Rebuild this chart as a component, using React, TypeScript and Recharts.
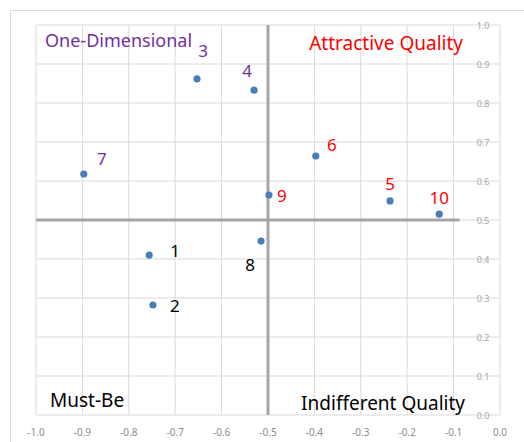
import React from 'react';
import {
    ScatterChart,
    Scatter,
    XAxis,
    YAxis,
    CartesianGrid,
    ReferenceLine,
    ReferenceArea,
    LabelList,
} from 'recharts';

const ITEM_IDS = ['1', '2', '3', '4', '5', '6', '7', '8', '9', '10'];
const X_VALUES = [-0.756, -0.748, -0.653, -0.53, -0.237, -0.397, -0.897, -0.515, -0.498, -0.131];
const Y_VALUES = [0.41, 0.282, 0.862, 0.833, 0.549, 0.664, 0.618, 0.446, 0.564, 0.515];
const X_TICKS = [-1.0, -0.9, -0.8, -0.7, -0.6, -0.5, -0.4, -0.3, -0.2, -0.1, 0.0];
const Y_TICKS = [0.0, 0.1, 0.2, 0.3, 0.4, 0.5, 0.6, 0.7, 0.8, 0.9, 1.0];

// label nudges per item [dx, dy]
const LABEL_NUDGE: [number, number][] = [
    [26, -5], [22, 0], [6, -28], [-7, -20], [0, -17],
    [16, -12], [18, -15], [-11, 23], [13, 0], [0, -17],
];

const PURPLE = '#7030a0';
const RED = '#ff0000';
const BLACK = '#000000';
const FONT = '"Noto Sans", "Open Sans", sans-serif';

const data = ITEM_IDS.map((id, i) => ({ id, x: X_VALUES[i], y: Y_VALUES[i], idx: i }));

function labelColor(x: number, y: number) {
    if (y < 0.5) return BLACK;
    return x < -0.5 ? PURPLE : RED;
}

function PointLabel(props: any) {
    const { x, y, width, height, index } = props;
    const d = data[index];
    const cx = x + (width || 0) / 2;
    const cy = y + (height || 0) / 2;
    const [dx, dy] = LABEL_NUDGE[index];
    return (
        <text
            x={cx + dx}
            y={cy + dy}
            fill={labelColor(d.x, d.y)}
            fontSize={17}
            fontFamily={FONT}
            textAnchor="middle"
            dominantBaseline="central"
        >
            {d.id}
        </text>
    );
}

function renderYTick(props: any) {
    const { x, y, payload } = props;
    return (
        <text x={x - 25} y={y} fill="#a6a6a6" fontSize={9} fontFamily={FONT} textAnchor="middle" dominantBaseline="central">
            {Number(payload.value).toFixed(1)}
        </text>
    );
}

function quadLabel(text: string, color: string, corner: 'tl' | 'tr' | 'bl' | 'br', ox: number, oy: number, size = 19) {
    return (props: any) => {
        const vb = props.viewBox;
        const left = corner === 'tl' || corner === 'bl';
        const top = corner === 'tl' || corner === 'tr';
        const tx = left ? vb.x + ox : vb.x + vb.width - ox;
        const ty = top ? vb.y + oy : vb.y + vb.height - oy;
        return (
            <text x={tx} y={ty} fill={color} fontSize={size} fontFamily={FONT} textAnchor={left ? 'start' : 'end'} dominantBaseline="central">
                {text}
            </text>
        );
    };
}

export default function App() {
    return (
        <div style={{ position: 'absolute', left: 0, top: 0, width: 524, height: 442, background: '#fff' }}>
            <div
                style={{
                    position: 'absolute',
                    left: 10,
                    top: 10,
                    width: 514,
                    height: 432,
                    borderTop: '1px solid #d9d9d9',
                    borderLeft: '1px solid #d9d9d9',
                }}
            />
            <ScatterChart
                width={524}
                height={442}
                margin={{ top: 25, right: 23, left: 36, bottom: 0 }}
                style={{ position: 'absolute', left: 0, top: 0 }}
            >
                <CartesianGrid stroke="#d9d9d9" strokeWidth={1} />
                <XAxis
                    type="number"
                    dataKey="x"
                    domain={[-1, 0]}
                    ticks={X_TICKS}
                    tickFormatter={(v) => Number(v).toFixed(1)}
                    axisLine={false}
                    tickLine={false}
                    tickMargin={8}
                    height={27}
                    tick={{ fill: '#8c8c8c', fontSize: 10, fontFamily: FONT }}
                    interval={0}
                />
                <YAxis
                    type="number"
                    dataKey="y"
                    orientation="right"
                    domain={[0, 1]}
                    ticks={Y_TICKS}
                    axisLine={false}
                    tickLine={false}
                    width={1}
                    tick={renderYTick}
                    interval={0}
                />
                <ReferenceArea x1={-1} x2={-0.5} y1={0.5} y2={1} fill="none" stroke="none" label={quadLabel('One-Dimensional', PURPLE, 'tl', 9, 15, 18)} />
                <ReferenceArea x1={-0.5} x2={0} y1={0.5} y2={1} fill="none" stroke="none" label={quadLabel('Attractive Quality', RED, 'tr', 37, 18)} />
                <ReferenceArea x1={-1} x2={-0.5} y1={0} y2={0.5} fill="none" stroke="none" label={quadLabel('Must-Be', BLACK, 'bl', 14, 15)} />
                <ReferenceArea x1={-0.5} x2={0} y1={0} y2={0.5} fill="none" stroke="none" label={quadLabel('Indifferent Quality', BLACK, 'br', 35, 12)} />
                <ReferenceLine x={-0.5} stroke="#a6a6a6" strokeWidth={3} />
                <ReferenceLine segment={[{ x: -1, y: 0.5 }, { x: -0.087, y: 0.5 }]} stroke="#a6a6a6" strokeWidth={3} />
                <Scatter
                    data={data}
                    fill="#4a7ebb"
                    isAnimationActive={false}
                    shape={(p: any) => <circle cx={p.cx} cy={p.cy} r={3.6} fill="#4a7ebb" />}
                >
                    <LabelList dataKey="id" content={<PointLabel />} />
                </Scatter>
            </ScatterChart>
        </div>
    );
}
